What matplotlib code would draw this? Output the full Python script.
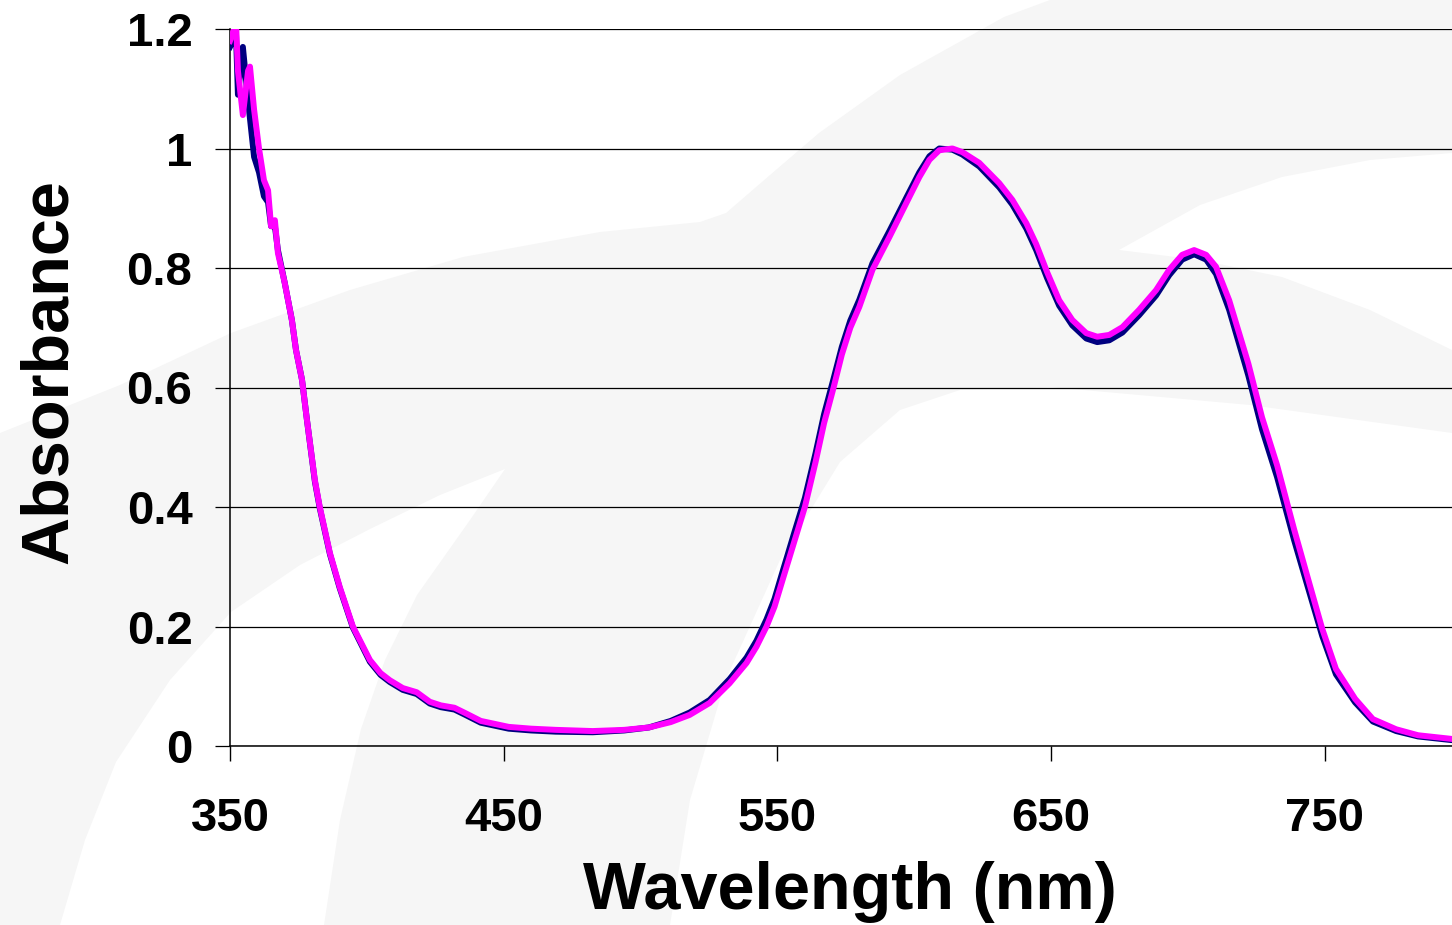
import matplotlib
matplotlib.use("Agg")
import matplotlib.pyplot as plt
from matplotlib.patches import Polygon

# %%
# Spectrum data
# --------------------------------------
wavelength = [
    350, 352.2, 352.9, 354.7, 356.6, 357.3, 358.8, 360.6, 362.4, 363.9,
    365, 366.4, 367.5, 370, 372.6, 374.1, 376.3, 378.1, 381, 382.8,
    386.5, 390.1, 394.9, 401.1, 405, 408.4, 413.1, 418.2, 423, 427,
    432, 436, 441.6, 451.8, 460, 469, 482.5, 494, 503, 511,
    517.9, 525.2, 532.5, 538.7, 542.3, 546, 548.9, 552, 556, 560,
    563.9, 567, 570.5, 573.5, 576.6, 579.9, 584.7, 590.9, 597.1, 601.8,
    605.5, 609.1, 613.9, 617.5, 623.7, 631, 635.8, 640.9, 644.5, 648.5,
    652.9, 657.7, 662.8, 666.8, 671.2, 676, 682.1, 688.3, 693.1, 697.8,
    702.2, 706.6, 710.2, 715, 722, 727, 732.5, 738.7, 743.8, 749,
    754, 761, 767.5, 776, 784, 796, 800,
]

abs_magenta = [
    1.18, 1.21, 1.13, 1.056, 1.13, 1.137, 1.065, 1.00, 0.947, 0.93,
    0.87, 0.88, 0.825, 0.775, 0.713, 0.663, 0.613, 0.546, 0.445, 0.40,
    0.323, 0.266, 0.20, 0.144, 0.122, 0.11, 0.097, 0.09, 0.074, 0.068,
    0.064, 0.055, 0.042, 0.032, 0.029, 0.027, 0.025, 0.027, 0.031, 0.04,
    0.052, 0.072, 0.105, 0.139, 0.166, 0.20, 0.233, 0.28, 0.34, 0.40,
    0.475, 0.54, 0.60, 0.655, 0.70, 0.735, 0.797, 0.852, 0.909, 0.952,
    0.981, 0.997, 1.0, 0.994, 0.976, 0.942, 0.914, 0.875, 0.84, 0.793,
    0.746, 0.713, 0.691, 0.685, 0.688, 0.701, 0.73, 0.763, 0.797, 0.822,
    0.83, 0.822, 0.802, 0.746, 0.64, 0.55, 0.47, 0.363, 0.28, 0.196,
    0.129, 0.079, 0.045, 0.028, 0.018, 0.012, 0.010,
]

abs_navy = [
    1.17, 1.19, 1.09, 1.17, 1.08, 1.05, 0.986, 0.96, 0.92, 0.91,
    0.87, 0.87, 0.83, 0.775, 0.713, 0.663, 0.613, 0.546, 0.443, 0.398,
    0.321, 0.264, 0.198, 0.141, 0.119, 0.107, 0.094, 0.087, 0.071, 0.065,
    0.061, 0.052, 0.039, 0.029, 0.026, 0.024, 0.023, 0.026, 0.031, 0.042,
    0.056, 0.077, 0.112, 0.148, 0.176, 0.212, 0.246, 0.294, 0.355, 0.415,
    0.49, 0.555, 0.615, 0.668, 0.712, 0.747, 0.808, 0.862, 0.918, 0.96,
    0.987, 1.0, 0.998, 0.99, 0.97, 0.935, 0.906, 0.866, 0.83, 0.783,
    0.737, 0.704, 0.682, 0.676, 0.679, 0.692, 0.721, 0.754, 0.788, 0.814,
    0.823, 0.814, 0.79, 0.73, 0.62, 0.53, 0.45, 0.345, 0.265, 0.184,
    0.12, 0.073, 0.041, 0.025, 0.016, 0.010, 0.009,
]

x_ticks = [350, 450, 550, 650, 750]
y_ticks = [0, 0.2, 0.4, 0.6, 0.8, 1.0, 1.2]
y_tick_labels = ["0", "0.2", "0.4", "0.6", "0.8", "1", "1.2"]

# %%
# Figure
# ------
W, H = 1452, 925
fig = plt.figure(figsize=(W / 100, H / 100), dpi=100)
plt.rcParams["font.family"] = ["Liberation Sans", "DejaVu Sans"]


def px(points):
    return [(x / W, 1 - y / H) for x, y in points]


# faint swoosh watermark behind the chart
bg_gray = "#f6f6f6"
gray_band = [(0, 433), (120, 385), (231, 333), (350, 290), (463, 257), (600, 232),
             (700, 222), (726, 213), (770, 175), (819, 133), (900, 75), (1004, 17),
             (1050, 0), (1452, 0), (1452, 925), (0, 925)]
white_crescent = [(1119, 250), (1200, 205), (1282, 177), (1370, 160), (1452, 153),
                  (1452, 350), (1370, 310), (1282, 277), (1200, 260)]
white_lower = [(670, 925), (690, 800), (726, 679), (780, 560), (840, 462), (900, 410),
               (960, 390), (1050, 387), (1250, 405), (1452, 433), (1452, 925)]
white_sliver = [(60, 925), (85, 840), (116, 762), (170, 680), (231, 612), (300, 565),
                (370, 529), (440, 495), (505, 469), (470, 520), (417, 595), (385, 660),
                (361, 729), (340, 820), (324, 925)]
fig.patches.append(Polygon(px(gray_band), closed=True, facecolor=bg_gray,
                           edgecolor="none", transform=fig.transFigure, zorder=-2))
for shape in (white_crescent, white_lower, white_sliver):
    fig.patches.append(Polygon(px(shape), closed=True, facecolor="white",
                               edgecolor="none", transform=fig.transFigure, zorder=-1))

ax = fig.add_axes([230 / W, 1 - 746 / H, (W - 230) / W, (746 - 29) / H])
ax.patch.set_alpha(0)

ax.plot(wavelength, abs_navy, color="#000080", lw=4.3, solid_joinstyle="round", zorder=3)
ax.plot(wavelength, abs_magenta, color="#ff00ff", lw=4.3, solid_joinstyle="round", zorder=4)

ax.set_xlim(350, 796.4)
ax.set_ylim(0, 1.2)
ax.set_xticks(x_ticks)
ax.set_yticks(y_ticks)
ax.set_yticklabels(y_tick_labels)
ax.yaxis.grid(True, color="black", lw=0.9)
ax.set_axisbelow(True)

for side in ("top", "right"):
    ax.spines[side].set_visible(False)
for side in ("left", "bottom"):
    ax.spines[side].set_linewidth(1.1)
    ax.spines[side].set_color("black")

ax.tick_params(axis="x", direction="out", length=11, width=1, pad=26,
               labelsize=34)
ax.tick_params(axis="y", direction="out", length=11, width=0.9, pad=16,
               labelsize=34)
for lab in ax.get_xticklabels() + ax.get_yticklabels():
    lab.set_fontweight("bold")

fig.text(850 / W, 1 - 909 / H, "Wavelength (nm)", fontsize=48, fontweight="bold",
         ha="center", va="baseline")
fig.text(67 / W, 1 - 372 / H, "Absorbance", fontsize=48, fontweight="bold",
         rotation=90, rotation_mode="anchor", ha="center", va="baseline")

fig.savefig("out.png", dpi=100)
